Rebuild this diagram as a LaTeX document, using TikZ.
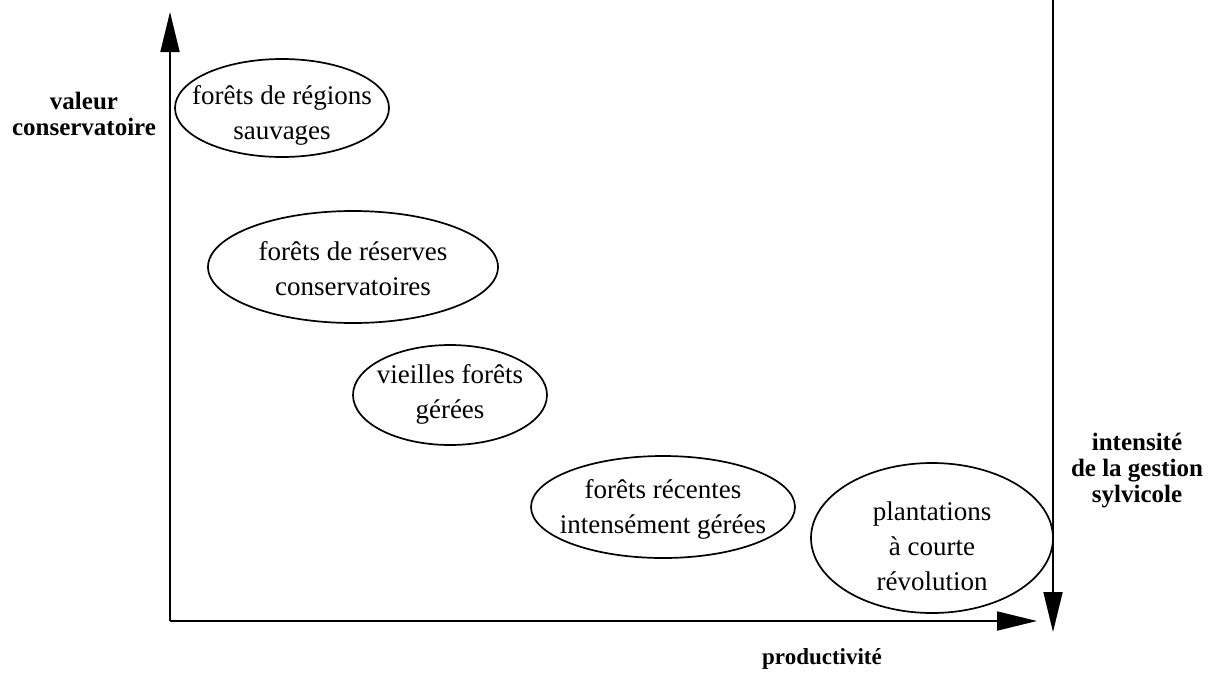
\documentclass[tikz,border=0pt]{standalone}
\usepackage{fontspec}
\setmainfont{Liberation Serif}
\usetikzlibrary{shapes,arrows.meta,positioning}

\begin{document}
\begin{tikzpicture}[x=1pt,y=-1pt,
  forest/.style={ellipse,draw,line width=1.7pt,inner sep=0pt},
  forestlabel/.style={align=center,font=\fontsize{27}{35}\selectfont},
  axislabel/.style={align=center,font=\bfseries\fontsize{25}{26}\selectfont},
  >={Triangle[length=40pt,width=19pt]}]
\useasboundingbox (0,0) rectangle (1214,678);

%% the axes
\coordinate (o) at (170,621);
\coordinate (ytop) at (170,12);
\coordinate (xend) at (1037,621);
\coordinate (gtop) at (1053,0);
\coordinate (gend) at (1053,632);
\draw [line width=1.8pt,->] (o) -- (ytop);
\draw [line width=1.8pt,->] (o) -- (xend);
\draw [line width=1.8pt,->] (gtop) -- (gend);

\node [axislabel] (valeur) at (84,114) {valeur\\conservatoire};
\node [axislabel,font=\bfseries\fontsize{23}{26}\selectfont] (prod) at (822,659) {productivité};
\node [axislabel] (intens) at (1137,471) {intensité\\de la gestion\\sylvicole};

%% the forest types: centre, size, shift of the text, text
\def\forets{282/108/214/98/7/{forêts de régions\\sauvages},
  353/267/290/112/2/{forêts de réserves\\conservatoires},
  450/395/194/100/-1/{vieilles forêts\\gérées},
  663/507/264/102/2/{forêts récentes\\intensément gérées},
  932/538/242/150/8/{plantations\\à courte\\révolution}}
\foreach \cx/\cy/\w/\h/\dy/\txt [count=\ni] in \forets
{
  \node [forest,minimum width=\w pt,minimum height=\h pt] (f\ni) at (\cx,\cy) {};
  \node [forestlabel,below=\dy pt of f\ni.center,anchor=center] (t\ni) {\txt};
}
\end{tikzpicture}
\end{document}
